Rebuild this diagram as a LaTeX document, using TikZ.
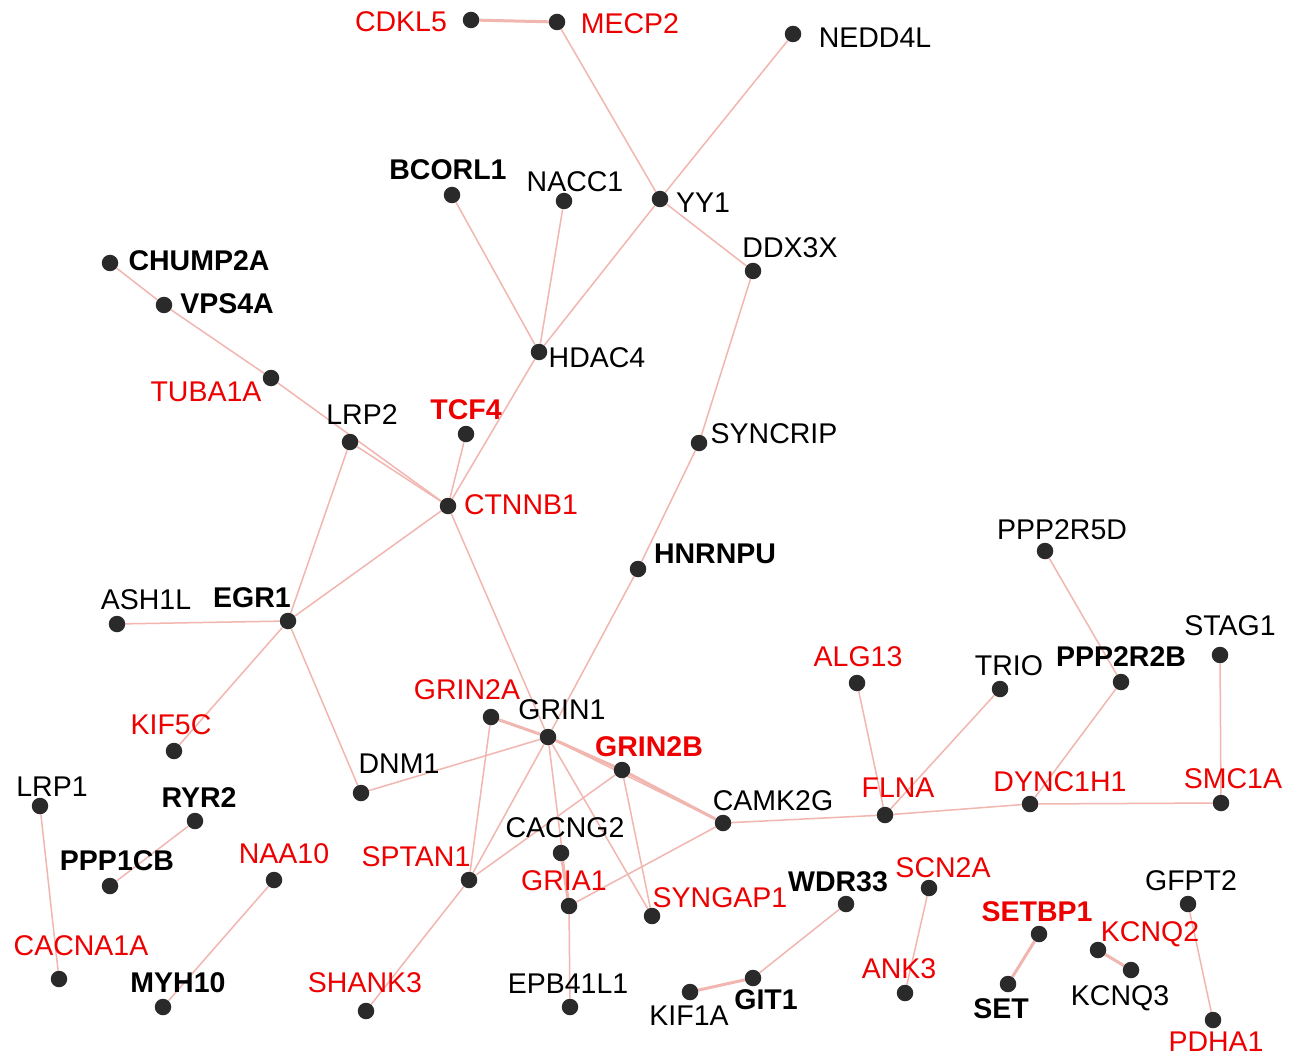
\documentclass[tikz,border=0pt]{standalone}
\usepackage{fontspec}
\setmainfont{Liberation Sans}
\pgfdeclarelayer{bg}
\pgfsetlayers{bg,main}
\definecolor{edgec}{RGB}{242,182,176}
\definecolor{dotc}{RGB}{42,42,42}
\definecolor{redt}{RGB}{238,0,0}
\begin{document}
\begin{tikzpicture}[x=1pt,y=-1pt,
  dot/.style={circle,fill=dotc,draw=none,minimum size=16.5pt,inner sep=0pt},
  lab/.style={inner sep=0pt,text depth=0pt,font=\fontsize{28.5}{30}\selectfont},
  rlab/.style={lab,text=redt},
  blab/.style={lab,font=\fontsize{28.5}{30}\selectfont\bfseries},
  brlab/.style={blab,text=redt},
  edge/.style={draw=edgec,line width=1.5pt},
  tedge/.style={draw=edgec,line width=3pt}]
\useasboundingbox (0,0) rectangle (1292,1056);
% dots
\foreach \n/\x/\y in {CDKL5/471/20, MECP2/557/22, NEDD4L/793/34, YY1/660/199, NACC1/564/201,
  BCORL1/452/195, DDX3X/753/271, CHUMP2A/110/263, VPS4A/164/305, HDAC4/539/352,
  TUBA1A/271/378, LRP2/350/442, TCF4/466/434, SYNCRIP/699/443, CTNNB1/448/506,
  HNRNPU/638/569, PPP2R5D/1045/551, ASH1L/117/624, EGR1/288/621, STAG1/1220/655,
  ALG13/857/683, TRIO/1000/689, PPP2R2B/1121/682, GRIN2A/491/717, GRIN1/548/737,
  KIF5C/174/751, GRIN2B/622/770, DNM1/361/793, LRP1/40/806, FLNA/885/815,
  DYNC1H1/1030/804, SMC1A/1221/803, RYR2/195/821, CAMK2G/723/823, CACNG2/561/853,
  SPTAN1/469/880, NAA10/274/880, PPP1CB/110/886, WDR33/846/904, SCN2A/929/888,
  GFPT2/1188/904, GRIA1/569/906, SYNGAP1/652/916, SETBP1/1039/934, KCNQ2/1098/950,
  KCNQ3/1131/970, CACNA1A/59/979, ANK3/905/993, GIT1/753/978, KIF1A/690/992,
  MYH10/163/1007, SHANK3/366/1011, SET/1008/984, EPB41L1/570/1007, PDHA1/1213/1020}
  {\node[dot] (\n) at (\x,\y) {};}
% labels
\foreach \n/\x/\y in {CDKL5/401/22, MECP2/630/24, TUBA1A/206/392, CTNNB1/521/505,
  ALG13/858/657, GRIN2A/467/690, KIF5C/171/725, FLNA/898/788, DYNC1H1/1060/782,
  SMC1A/1233/779, SPTAN1/416/857, NAA10/284/854, SCN2A/943/868, GRIA1/564/881,
  SYNGAP1/720/898, KCNQ2/1150/932, CACNA1A/81/946, ANK3/899/969, SHANK3/365/983,
  PDHA1/1216/1042}
  {\node[rlab] (l\n) at (\x,\y) {\n};}
\foreach \n/\x/\y in {TCF4/466/410, GRIN2B/649/747, SETBP1/1037/912}
  {\node[brlab] (l\n) at (\x,\y) {\n};}
\foreach \n/\x/\y in {BCORL1/448/170, CHUMP2A/199/261, VPS4A/227/304, HNRNPU/715/554,
  EGR1/252/598, PPP2R2B/1121/657, RYR2/199/798, PPP1CB/117/861, WDR33/838/882,
  MYH10/178/983, GIT1/766/1000, SET/1001/1009}
  {\node[blab] (l\n) at (\x,\y) {\n};}
\foreach \n/\x/\y in {NEDD4L/875/38, NACC1/575/182, YY1/703/203, DDX3X/790/248,
  HDAC4/597/358, LRP2/362/415, SYNCRIP/774/434, PPP2R5D/1062/530, ASH1L/146/600,
  STAG1/1230/626, TRIO/1009/666, GRIN1/562/710, DNM1/399/764, LRP1/52/787,
  CAMK2G/773/801, CACNG2/565/828, GFPT2/1191/881, KCNQ3/1120/996,
  EPB41L1/568/984, KIF1A/689/1016}
  {\node[lab] (l\n) at (\x,\y) {\n};}
% edges
\begin{pgfonlayer}{bg}
\fill[white] (0,0) rectangle (1292,1056);
\foreach \a/\b in {MECP2/YY1, NEDD4L/YY1, YY1/DDX3X, YY1/HDAC4, BCORL1/HDAC4,
  NACC1/HDAC4, HDAC4/CTNNB1, CHUMP2A/VPS4A, VPS4A/TUBA1A, TUBA1A/CTNNB1,
  LRP2/CTNNB1, TCF4/CTNNB1, LRP2/EGR1, CTNNB1/EGR1, CTNNB1/GRIN1, DDX3X/SYNCRIP,
  SYNCRIP/HNRNPU, HNRNPU/GRIN1, ASH1L/EGR1, EGR1/KIF5C, EGR1/DNM1, DNM1/GRIN1,
  GRIN2A/SPTAN1, GRIN1/CAMK2G, GRIN1/SPTAN1, GRIN1/GRIA1, GRIN1/SYNGAP1,
  GRIN2B/SYNGAP1, GRIN2B/SPTAN1, CAMK2G/GRIA1, CAMK2G/FLNA, SPTAN1/SHANK3,
  GRIA1/EPB41L1, FLNA/ALG13, FLNA/TRIO, FLNA/DYNC1H1, DYNC1H1/PPP2R2B,
  DYNC1H1/SMC1A, PPP2R5D/PPP2R2B, STAG1/SMC1A, LRP1/CACNA1A, RYR2/PPP1CB,
  NAA10/MYH10, WDR33/GIT1, SCN2A/ANK3, GFPT2/PDHA1}
  {\draw[edge] (\a) -- (\b);}
\foreach \a/\b in {CDKL5/MECP2, GRIN2A/GRIN1, GRIN1/GRIN2B, GRIN2B/CAMK2G,
  CACNG2/GRIA1, GIT1/KIF1A, SETBP1/SET, KCNQ2/KCNQ3}
  {\draw[tedge] (\a) -- (\b);}
\end{pgfonlayer}
\end{tikzpicture}
\end{document}
